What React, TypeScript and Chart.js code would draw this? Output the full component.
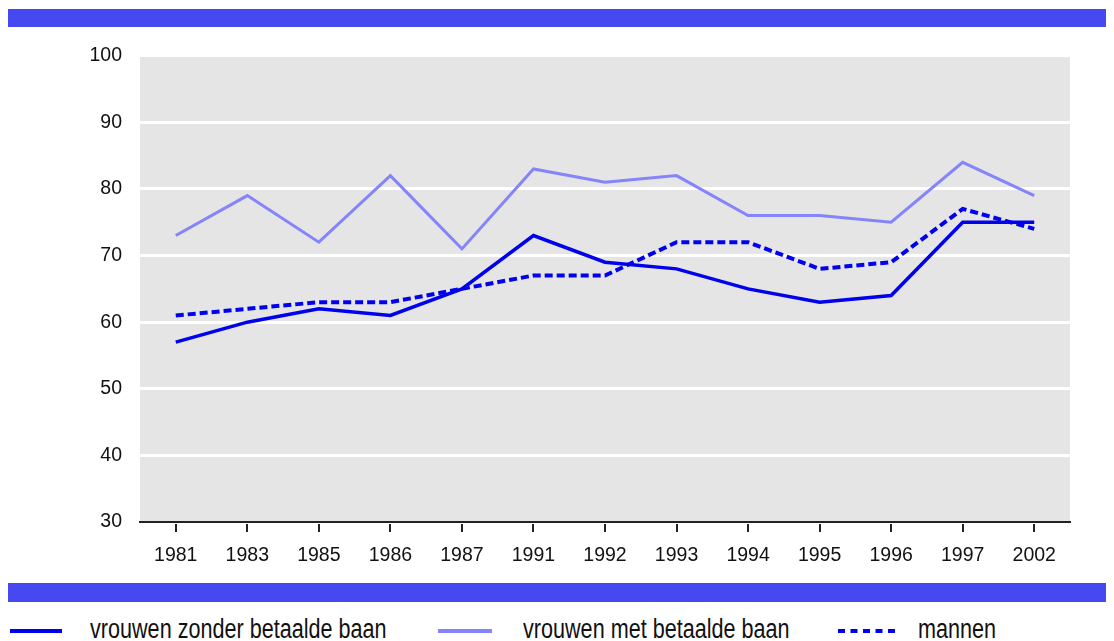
import React, { useEffect, useRef } from "react";
import { Chart, registerables } from "chart.js";

Chart.register(...registerables);

const years = ["1981", "1983", "1985", "1986", "1987", "1991", "1992", "1993", "1994", "1995", "1996", "1997", "2002"];
const zonderBaan = [57, 60, 62, 61, 65, 73, 69, 68, 65, 63, 64, 75, 75];
const metBaan = [73, 79, 72, 82, 71, 83, 81, 82, 76, 76, 75, 84, 79];
const mannen = [61, 62, 63, 63, 65, 67, 67, 72, 72, 68, 69, 77, 74];
const seriesLabels = ["vrouwen zonder betaalde baan", "vrouwen met betaalde baan", "mannen"];
const yMin = 30;
const yMax = 100;
const yStep = 10;

const DARK = "#0000ee";
const LIGHT = "#8585fb";
const BAR = "#4649f0";
const TICK_FONT = "'Liberation Sans', Arial, sans-serif";
const LEGEND_FONT = "'Liberation Sans', Arial, sans-serif";

const bgPlugin = {
  id: "plotBg",
  beforeDraw(chart: any) {
    const { ctx, chartArea } = chart;
    ctx.save();
    ctx.fillStyle = "#e5e5e5";
    ctx.fillRect(chartArea.left, chartArea.top, chartArea.right - chartArea.left, chartArea.bottom - chartArea.top);
    ctx.restore();
  },
};

function ChartCanvas() {
  const ref = useRef<HTMLCanvasElement | null>(null);
  useEffect(() => {
    if (!ref.current) return;
    const chart = new Chart(ref.current, {
      type: "line",
      data: {
        labels: years,
        datasets: [
          {
            label: seriesLabels[1],
            data: metBaan,
            borderColor: LIGHT,
            borderWidth: 3,
            pointRadius: 0,
            tension: 0,
          },
          {
            label: seriesLabels[2],
            data: mannen,
            borderColor: DARK,
            borderWidth: 4,
            borderDash: [8, 4],
            pointRadius: 0,
            tension: 0,
          },
          {
            label: seriesLabels[0],
            data: zonderBaan,
            borderColor: DARK,
            borderWidth: 3.5,
            pointRadius: 0,
            tension: 0,
          },
        ],
      },
      options: {
        responsive: false,
        animation: false,
        layout: { padding: { top: 7, right: 44, left: 0, bottom: 0 } },
        plugins: { legend: { display: false }, tooltip: { enabled: false } },
        scales: {
          x: {
            offset: true,
            afterFit(scale: any) {
              scale.height = 56;
            },
            grid: {
              display: true,
              drawOnChartArea: false,
              drawTicks: true,
              tickLength: 10,
              color: "#222",
              lineWidth: 2,
              offset: false,
            },
            border: { display: true, color: "#222", width: 2, z: 2 },
            ticks: {
              color: "#111",
              font: { family: TICK_FONT, size: 19.5 },
              padding: 12,
              maxRotation: 0,
              autoSkip: false,
            },
          },
          y: {
            min: yMin,
            max: yMax,
            afterFit(scale: any) {
              scale.width = 132;
            },
            grid: {
              color: "#ffffff",
              lineWidth: 3,
              drawTicks: false,
            },
            border: { display: false },
            ticks: {
              stepSize: yStep,
              color: "#111",
              font: { family: TICK_FONT, size: 19.5 },
              padding: 18,
            },
          },
        },
      },
      plugins: [bgPlugin],
    });
    return () => chart.destroy();
  }, []);
  return <canvas ref={ref} width={1106} height={552} style={{ position: "absolute", left: 0, top: 18, width: 1106, height: 552 }} />;
}

function LegendLine({ left, width, color, dashed }: { left: number; width: number; color: string; dashed?: boolean }) {
  return (
    <svg style={{ position: "absolute", left, top: 619, width, height: 8 }} width={width} height={8}>
      <line x1={0} y1={4} x2={width} y2={4} stroke={color} strokeWidth={4} strokeDasharray={dashed ? "7 5.5" : undefined} />
    </svg>
  );
}

function LegendText({ left, text }: { left: number; text: string }) {
  return (
    <div
      style={{
        position: "absolute",
        left,
        top: 608,
        fontFamily: LEGEND_FONT,
        fontSize: 27,
        lineHeight: "27px",
        color: "#111",
        whiteSpace: "nowrap",
        transform: "scaleX(0.8)",
        transformOrigin: "0 0",
      }}
    >
      {text}
    </div>
  );
}

export default function App() {
  return (
    <div style={{ position: "relative", width: 1106, height: 633, overflow: "hidden" }}>
      <div style={{ position: "absolute", left: 0, top: 1, width: 1106, height: 18, background: BAR }} />
      <ChartCanvas />
      <div style={{ position: "absolute", left: 0, top: 575, width: 1106, height: 19, background: BAR }} />
      <LegendLine left={2} width={52} color={DARK} />
      <LegendText left={82} text={seriesLabels[0]} />
      <LegendLine left={430} width={54} color={LIGHT} />
      <LegendText left={515} text={seriesLabels[1]} />
      <LegendLine left={830} width={60} color={DARK} dashed />
      <LegendText left={910} text={seriesLabels[2]} />
    </div>
  );
}
